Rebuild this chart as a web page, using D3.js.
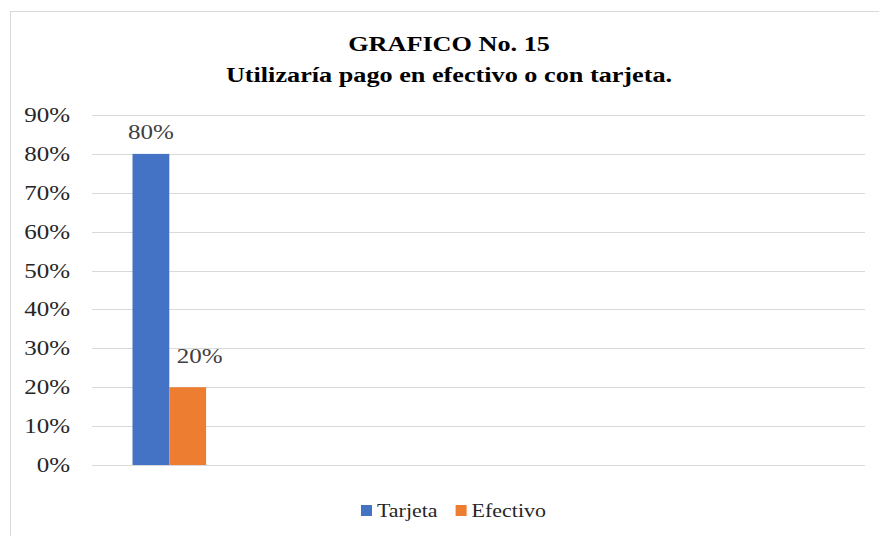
<!DOCTYPE html>
<html>
<head>
<meta charset="utf-8">
<script src="https://cdn.jsdelivr.net/npm/d3@7"></script>
<style>
  body { margin: 0; background: #fff; }
  text { font-family: "Liberation Serif", "Times New Roman", serif; }
</style>
</head>
<body>
<svg id="chart"></svg>
<script>
// data
const categories = ['Pago', '', '', '', ''];   // only the first slot carries data
const seriesNames = ['Tarjeta', 'Efectivo'];
const tarjeta = [0.80, null, null, null, null];
const efectivo = [0.20, null, null, null, null];
const yTicks = [0, 0.1, 0.2, 0.3, 0.4, 0.5, 0.6, 0.7, 0.8, 0.9];
const titleLines = ['GRAFICO No. 15', 'Utilizaría pago en efectivo o con tarjeta.'];

const colors = {Tarjeta: '#4472C4', Efectivo: '#ED7D31'};
const W = 879, H = 536;
const margin = {top: 115, right: 14, bottom: 71, left: 92};
const stretch = 1.22; // source text is drawn horizontally wide

const svg = d3.select('#chart').attr('width', W).attr('height', H);

// outer frame (runs off the right and bottom edge)
svg.append('rect')
    .attr('x', 10.5).attr('y', 11.5)
    .attr('width', W).attr('height', H)
    .attr('fill', 'none').attr('stroke', '#d9d9d9');

const width = W - margin.left - margin.right;
const height = H - margin.top - margin.bottom;

const chart = svg.append('g').attr('transform', `translate(${margin.left},${margin.top})`);

const yScale = d3.scaleLinear().domain([0, 0.9]).range([height, 0]);
const xScale = d3.scaleBand().domain(d3.range(categories.length)).range([0, width]);
const xSub = d3.scaleBand().domain(seriesNames).range([0, xScale.bandwidth()]).paddingOuter(1.1);

// helper for stretched text
function sText(parent, x, y, str, opts) {
  return parent.append('text')
      .attr('transform', `translate(${x},${y}) scale(${stretch},1)`)
      .attr('text-anchor', opts.anchor || 'start')
      .attr('font-size', opts.size)
      .attr('font-weight', opts.weight || 'normal')
      .attr('fill', opts.fill || '#000')
      .text(str);
}

// gridlines
chart.selectAll('.grid')
    .data(yTicks)
  .join('line')
    .attr('class', 'grid')
    .attr('x1', 0).attr('x2', width)
    .attr('y1', d => Math.round(yScale(d)) + 0.5)
    .attr('y2', d => Math.round(yScale(d)) + 0.5)
    .attr('stroke', '#d9d9d9').attr('stroke-width', 1);

// y labels
yTicks.forEach(t => {
  sText(chart, -22, yScale(t) + 7, d3.format('.0%')(t), {anchor: 'end', size: 20.5, fill: '#262626'});
});

// bars
const rows = categories.map((c, i) => ({i, Tarjeta: tarjeta[i], Efectivo: efectivo[i]}));
const flat = [];
rows.forEach(r => seriesNames.forEach((s, k) => {
  if (r[s] != null) flat.push({i: r.i, key: s, k, value: r[s]});
}));

chart.selectAll('.bar')
    .data(flat)
  .join('rect')
    .attr('class', 'bar')
    .attr('x', d => xScale(d.i) + xSub(d.key))
    .attr('width', xSub.bandwidth())
    .attr('y', d => yScale(d.value))
    .attr('height', d => yScale(0) - yScale(d.value))
    .attr('fill', d => colors[d.key]);

// data labels
flat.forEach(d => {
  const cx = xScale(d.i) + xSub(d.key) + xSub.bandwidth() / 2;
  sText(chart, cx + (d.k === 1 ? 12 : 0), yScale(d.value) - (d.k === 1 ? 24 : 15),
        d3.format('.0%')(d.value), {anchor: 'middle', size: 20.5, fill: '#404040'});
});

// title
sText(svg, 449, 51, titleLines[0], {anchor: 'middle', size: 21.5, weight: 'bold'});
sText(svg, 449, 82, titleLines[1], {anchor: 'middle', size: 21.5, weight: 'bold'});

// legend
const legend = svg.append('g').attr('transform', 'translate(361,505)');
let lx = 0;
seriesNames.forEach(s => {
  legend.append('rect').attr('x', lx).attr('y', 0).attr('width', 11).attr('height', 11).attr('fill', colors[s]);
  const t = sText(legend, lx + 16, 12, s, {size: 18, fill: '#262626'});
  lx += 16 + t.node().getComputedTextLength() * stretch + 18;
});
</script>
</body>
</html>
